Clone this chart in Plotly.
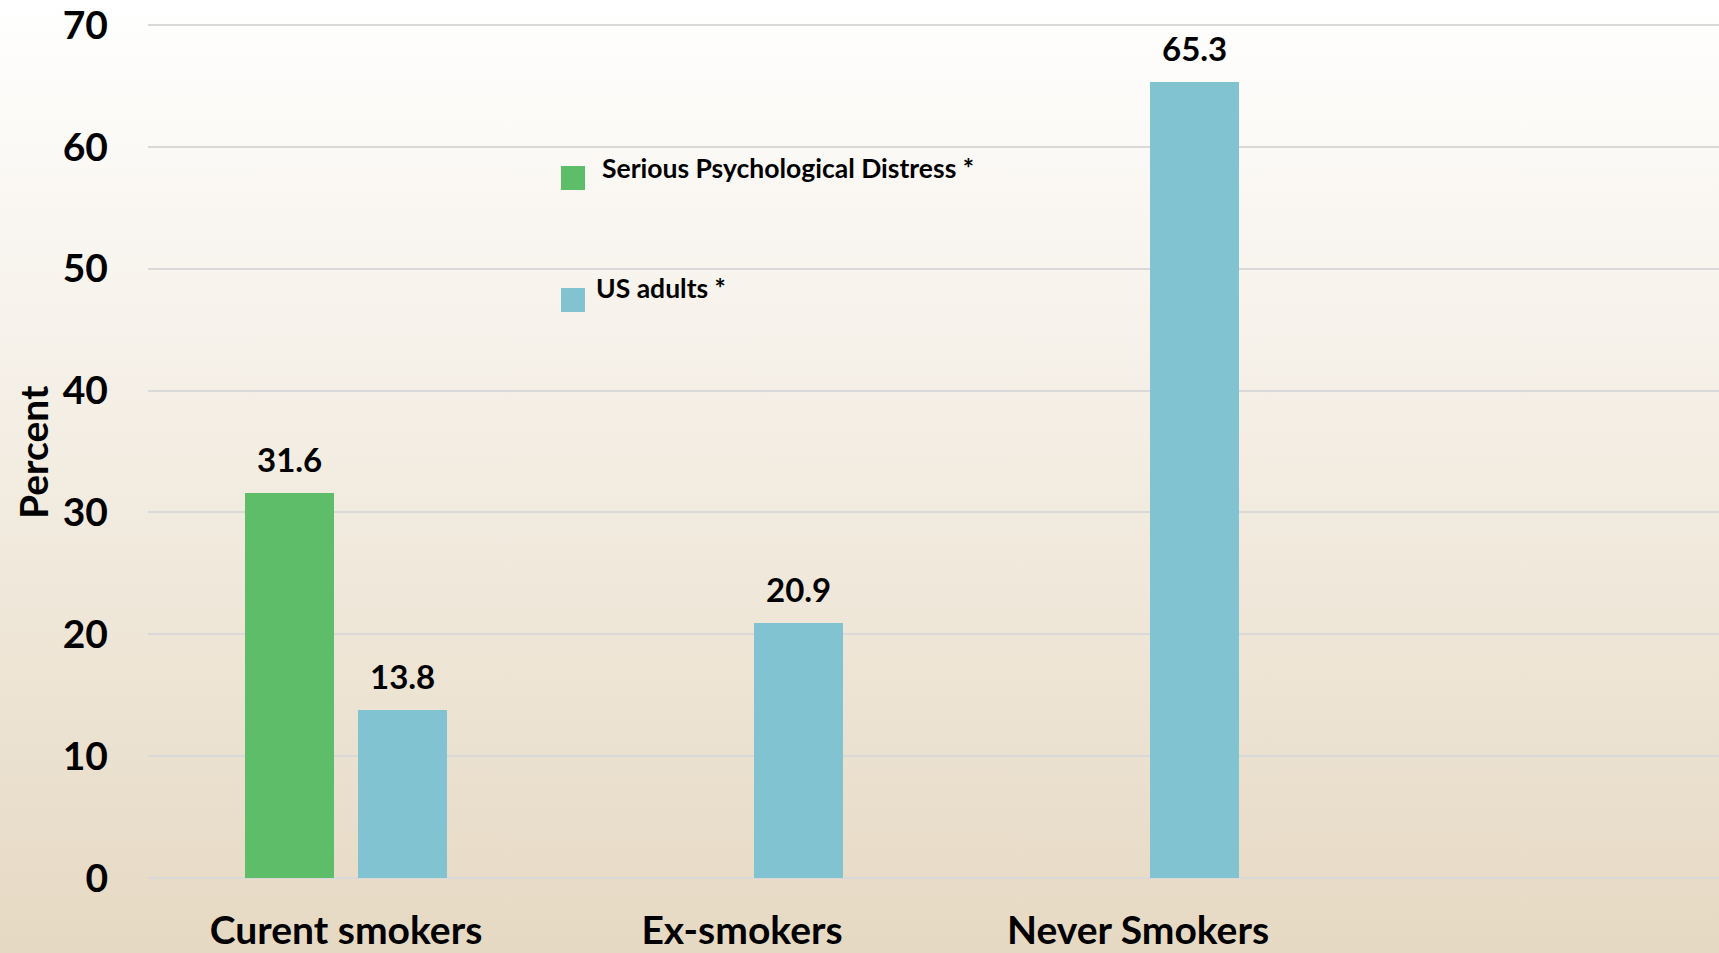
import base64
import plotly.graph_objects as go

# Smoking status by group (percent)
categories = ["Curent smokers", "Ex-smokers", "Never Smokers"]
series_names = ["Serious Psychological Distress *", "US adults *"]
spd_values = [31.6, None, None]
us_adult_values = [13.8, 20.9, 65.3]
y_ticks = [0, 10, 20, 30, 40, 50, 60, 70]

GREEN = "#5EBD69"
BLUE = "#82C3D1"
GRID = "#D9D9D9"
FONT = "Lato"

W, H = 1719, 953
Y0_PX, Y70_PX = 878, 25          # pixel rows of the 0 and 70 gridlines
EXT = 3                          # extra px beyond the end gridlines so they get drawn
ML, MR = 148, 0
MT, MB = Y70_PX - EXT, H - Y0_PX - EXT
PW, PH = W - ML - MR, H - MT - MB
UNIT = (Y0_PX - Y70_PX) / 70     # px per percent
CAT_PX = 396                     # pixel width of one category slot
BAR_W = 89 / CAT_PX              # bar width in category units
BAR_SHIFT = 56.5 / CAT_PX        # distance of each bar centre from slot centre

xpos = list(range(len(categories)))


def px_x(px):
    return (px - ML) / PW


def px_y(py):
    return (H - MB - py) / PH


fig = go.Figure()
fig.add_trace(go.Bar(
    x=xpos, y=spd_values, name=series_names[0],
    width=BAR_W, offset=-BAR_SHIFT - BAR_W / 2,
    marker=dict(color=GREEN, line=dict(width=0)), showlegend=False,
))
fig.add_trace(go.Bar(
    x=xpos, y=us_adult_values, name=series_names[1],
    width=BAR_W, offset=BAR_SHIFT - BAR_W / 2,
    marker=dict(color=BLUE, line=dict(width=0)), showlegend=False,
))

# value labels above each bar
for vals, shift in ((spd_values, -BAR_SHIFT), (us_adult_values, BAR_SHIFT)):
    for xi, v in zip(xpos, vals):
        if v is None:
            continue
        fig.add_annotation(
            x=xi + shift, y=v, xref="x", yref="y", text=f"{v:.1f}",
            showarrow=False, yanchor="bottom", yshift=12,
            font=dict(family=FONT, size=33, color="black", weight="bold"),
        )

# legend: coloured squares with labels
legend_rows = [(GREEN, series_names[0], 178, 600, 168), (BLUE, series_names[1], 300, 594, 288)]
for color, name, sq_cy, tx, ty in legend_rows:
    fig.add_shape(
        type="rect", xref="paper", yref="paper",
        x0=px_x(561), x1=px_x(585), y0=px_y(sq_cy + 12), y1=px_y(sq_cy - 12),
        fillcolor=color, line=dict(width=0),
    )
    fig.add_annotation(
        x=px_x(tx), y=px_y(ty), xref="paper", yref="paper", text=name,
        showarrow=False, xanchor="left", yanchor="middle",
        font=dict(family=FONT, size=26.5, color="black", weight="bold"),
    )

# y-axis title
fig.add_annotation(
    x=px_x(33), y=px_y(452), xref="paper", yref="paper", text="Percent",
    showarrow=False, textangle=-90, xanchor="center", yanchor="middle",
    font=dict(family=FONT, size=39, color="black", weight="bold"),
)

# vertical white-to-tan background gradient
svg = (
    '<svg xmlns="http://www.w3.org/2000/svg" width="100" height="100" preserveAspectRatio="none">'
    '<defs><linearGradient id="g" x1="0" y1="0" x2="0" y2="1">'
    '<stop offset="0" stop-color="#FFFFFF"/><stop offset="1" stop-color="#E6D9C3"/>'
    '</linearGradient></defs><rect width="100" height="100" fill="url(#g)"/></svg>'
)
bg_uri = "data:image/svg+xml;base64," + base64.b64encode(svg.encode()).decode()
fig.add_layout_image(
    source=bg_uri, xref="paper", yref="paper",
    x=px_x(0), y=px_y(0), sizex=W / PW, sizey=H / PH,
    xanchor="left", yanchor="top", sizing="stretch", layer="below",
)

fig.update_layout(
    width=W, height=H,
    margin=dict(l=ML, r=MR, t=MT, b=MB, autoexpand=False),
    paper_bgcolor="rgba(0,0,0,0)", plot_bgcolor="rgba(0,0,0,0)",
    barmode="group", bargap=0, bargroupgap=0,
    showlegend=False,
)
fig.update_xaxes(
    range=[-0.5, -0.5 + PW / CAT_PX], tickmode="array", tickvals=xpos, ticktext=categories,
    showgrid=False, zeroline=False, showline=False, ticks="",
    tickfont=dict(family=FONT, size=39, color="black", weight="bold"),
    ticklabelstandoff=23,
)
fig.update_yaxes(
    range=[-EXT / UNIT, 70 + EXT / UNIT], tickmode="array", tickvals=y_ticks,
    showgrid=True, gridcolor=GRID, gridwidth=2, zeroline=False, showline=False, ticks="",
    tickfont=dict(family=FONT, size=39, color="black", weight="bold"),
    ticklabelstandoff=39,
)

fig.write_html("out.html")
